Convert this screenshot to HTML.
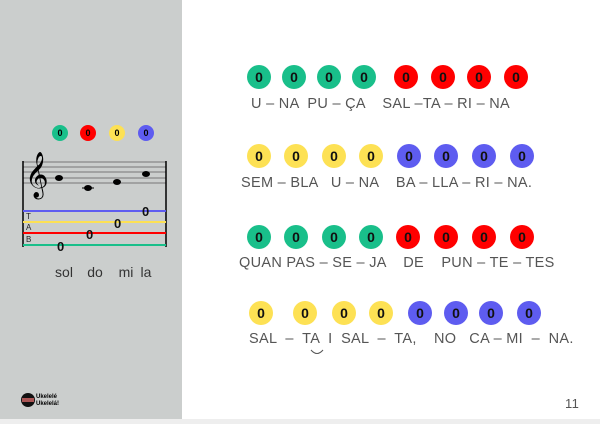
<!DOCTYPE html>
<html><head><meta charset="utf-8"><style>
body{margin:0;width:600px;height:424px;background:#fff;position:relative;overflow:hidden;font-family:"Liberation Sans",sans-serif}
.p{position:absolute;left:0;top:0;width:182px;height:419px;background:#cbcecd}
.b{position:absolute;left:0;top:419px;width:600px;height:5px;background:#eeeeee}
.c{position:absolute;border-radius:50%;display:flex;align-items:center;justify-content:center;font-weight:bold;color:#111}
.t{position:absolute;font-size:14.5px;color:#555;white-space:pre;letter-spacing:0.3px}
.G{background:#19bf8a}.R{background:#f00}.Y{background:#fde154}.B{background:#5e5cf0}
</style></head><body>
<div class="p"></div><div class="b"></div>
<svg width="182" height="419" style="position:absolute;left:0;top:0">
<g stroke="#777" stroke-width="1">
<line x1="23" y1="162" x2="166" y2="162"/><line x1="23" y1="167" x2="166" y2="167"/><line x1="23" y1="172" x2="166" y2="172"/><line x1="23" y1="178" x2="166" y2="178"/><line x1="23" y1="183" x2="166" y2="183"/></g>
<line x1="23" y1="161" x2="23" y2="247" stroke="#000" stroke-width="1.5"/>
<line x1="166" y1="161" x2="166" y2="247" stroke="#000" stroke-width="1.5"/>
<line x1="23" y1="211" x2="166" y2="211" stroke="#5e5cf0" stroke-width="2"/>
<line x1="23" y1="222" x2="166" y2="222" stroke="#fde154" stroke-width="2"/>
<line x1="23" y1="233" x2="166" y2="233" stroke="#f00" stroke-width="2"/>
<line x1="23" y1="245" x2="166" y2="245" stroke="#19bf8a" stroke-width="2"/>
<text x="25" y="188" font-size="40" font-family="DejaVu Sans">𝄞</text>
<ellipse cx="59" cy="178" rx="4" ry="3" fill="#000"/><ellipse cx="88" cy="188" rx="4" ry="3" fill="#000"/><line x1="82" y1="188" x2="94" y2="188" stroke="#000"/>
<ellipse cx="117" cy="182" rx="4" ry="3" fill="#000"/><ellipse cx="146" cy="174" rx="4" ry="3" fill="#000"/>
<g font-size="8" font-family="Liberation Sans" fill="#222"><text x="26" y="219">T</text><text x="26" y="230">A</text><text x="26" y="242">B</text></g>
<g font-size="13" font-family="Liberation Sans" font-weight="bold" fill="#111"><text x="57" y="251">0</text><text x="86" y="239">0</text><text x="114" y="228">0</text><text x="142" y="216">0</text></g>
<g font-size="9" font-weight="bold" font-family="Liberation Sans" text-anchor="middle"><circle cx="60" cy="133" r="8" fill="#19bf8a"/><text x="60" y="136">0</text><circle cx="88" cy="133" r="8" fill="#f00"/><text x="88" y="136">0</text><circle cx="117" cy="133" r="8" fill="#fde154"/><text x="117" y="136">0</text><circle cx="146" cy="133" r="8" fill="#5e5cf0"/><text x="146" y="136">0</text></g>
<g font-size="14" fill="#333" font-family="Liberation Sans" text-anchor="middle"><text x="64" y="277">sol</text><text x="95" y="277">do</text><text x="126" y="277">mi</text><text x="146" y="277">la</text></g>
<circle cx="28" cy="400" r="7" fill="#111"/><rect x="22" y="398" width="12" height="4" fill="#a55"/>
<text x="36" y="398" font-size="6" font-weight="bold" font-family="Liberation Sans">Ukelelé</text><text x="36" y="405" font-size="6" font-weight="bold" font-family="Liberation Sans">Ukelelá!</text>
</svg>
<div id="rows"></div>
<div class="t" style="left:251px;top:96px">U – NA  PU – ÇA    SAL –TA – RI – NA</div>
<div class="t" style="left:241px;top:175px">SEM – BLA   U – NA    BA – LLA – RI – NA.</div>
<div class="t" style="left:239px;top:255px">QUAN PAS – SE – JA    DE    PUN – TE – TES</div>
<div class="t" style="left:249px;top:331px">SAL  –  TA  I  SAL  –  TA,    NO   CA – MI  –  NA.</div>
<svg width="20" height="10" style="position:absolute;left:309px;top:348px"><path d="M2 2 Q8 9 14 2" stroke="#555" fill="none"/></svg>
<div class="t" style="left:565px;top:396px;font-size:13px">11</div>
<script>
var rows=[[77,[259,294,329,364,406,443,479,516],"GGGGRRRR"],[156,[259,296,334,371,409,446,484,522],"YYYYBBBB"],[237,[259,296,334,371,408,446,484,522],"GGGGRRRR"],[313,[261,305,344,381,420,456,491,529],"YYYYBBBB"]];
var h="";rows.forEach(function(r){r[1].forEach(function(x,i){h+='<div class="c '+r[2][i]+'" style="left:'+(x-12)+'px;top:'+(r[0]-12)+'px;width:24px;height:24px;font-size:14px">0</div>';});});
document.getElementById("rows").innerHTML=h;
</script>
</body></html>
